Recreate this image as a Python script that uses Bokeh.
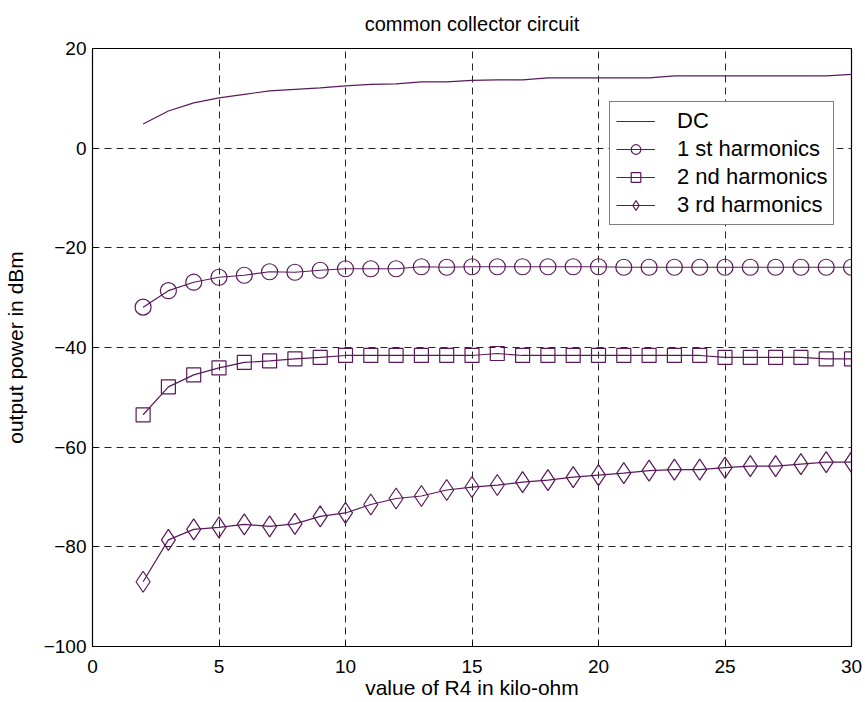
from bokeh.plotting import figure
from bokeh.models import Range1d, FixedTicker, Legend, LegendItem
from bokeh.embed import file_html
from bokeh.resources import INLINE

r4 = list(range(2, 31))
dc = [4.85, 7.45, 9.1, 10.1, 10.8, 11.5, 11.8, 12.1, 12.5, 12.8, 12.9, 13.3, 13.3,
      13.6, 13.7, 13.7, 14.1, 14.1, 14.1, 14.1, 14.1, 14.5, 14.5, 14.5, 14.5, 14.5,
      14.5, 14.5, 14.8]
h1 = [-31.9, -28.6, -26.9, -25.9, -25.5, -24.8, -24.9, -24.5, -24.2, -24.2, -24.2,
      -23.8, -23.9, -23.8, -23.8, -23.8, -23.8, -23.8, -23.8, -23.9, -23.9, -23.9,
      -23.9, -23.9, -23.9, -23.9, -23.9, -23.9, -23.9]
h2 = [-53.5, -47.9, -45.5, -44.1, -43.0, -42.7, -42.3, -42.0, -41.6, -41.6, -41.6,
      -41.6, -41.6, -41.6, -41.2, -41.6, -41.6, -41.6, -41.6, -41.6, -41.6, -41.6,
      -41.6, -42.0, -42.0, -42.0, -42.0, -42.3, -42.3]
h3 = [-87.0, -78.6, -76.5, -76.1, -75.5, -75.9, -75.4, -73.9, -73.2, -71.5, -70.3,
      -69.8, -68.6, -68.0, -67.6, -67.0, -66.6, -66.0, -65.6, -65.2, -64.7, -64.5,
      -64.5, -64.1, -63.8, -63.8, -63.4, -63.0, -63.0]

x_ticks = [0, 5, 10, 15, 20, 25, 30]
y_ticks = [-100, -80, -60, -40, -20, 0, 20]

title_text = "common collector circuit"
x_label = "value of R4 in kilo-ohm"
y_label = "output power in dBm"
names = ["DC", "1 st harmonics", "2 nd harmonics", "3 rd harmonics"]

COL = "#5a1a5a"
FONT = "Liberation Sans"

p = figure(width=865, height=702, output_backend="svg", toolbar_location=None,
           x_range=Range1d(0, 30), y_range=Range1d(-100, 20),
           min_border_left=91, min_border_right=14, min_border_top=47,
           min_border_bottom=56)

p.title.text = title_text
p.title.text_font = FONT
p.title.text_font_style = "normal"
p.title.text_font_size = "20px"
p.title.align = "center"
p.title.vertical_align = "top"
p.title.text_color = "black"
p.title.standoff = 24

p.outline_line_color = "black"
p.outline_line_width = 1.2
p.outline_line_alpha = 1

for ax, ticks, lab in ((p.xaxis, x_ticks, x_label), (p.yaxis, y_ticks, y_label)):
    ax.ticker = FixedTicker(ticks=ticks)
    ax.axis_label = lab
    ax.axis_label_text_font = FONT
    ax.axis_label_text_font_style = "normal"
    ax.axis_label_text_font_size = "21px"
    ax.axis_label_text_color = "black"
    ax.major_label_text_font = FONT
    ax.major_label_text_font_size = "19px"
    ax.major_label_text_color = "black"
    ax.axis_line_color = "black"
    ax.major_tick_in = 5
    ax.major_tick_out = 0
    ax.minor_tick_line_color = None
    ax.major_tick_line_color = "black"

p.xaxis.major_label_standoff = 13
p.xaxis.axis_label_standoff = 0
p.yaxis.major_label_standoff = 6
p.yaxis.axis_label_standoff = 14

for g in (p.xgrid, p.ygrid):
    g.grid_line_color = "black"
    g.grid_line_dash = "7 5"
    g.grid_line_alpha = 0.85
    g.grid_line_width = 1

l0 = p.line(r4, dc, line_color=COL, line_width=1.2)
l1 = p.line(r4, h1, line_color=COL, line_width=1.2)
s1 = p.scatter(r4, h1, marker="circle", size=16, fill_color=None, line_color=COL, line_width=1.2)
l2 = p.line(r4, h2, line_color=COL, line_width=1.2)
s2 = p.scatter(r4, h2, marker="square", size=14, fill_color=None, line_color=COL, line_width=1.2)
l3 = p.line(r4, h3, line_color=COL, line_width=1.2)
s3 = p.scatter(r4, h3, marker="diamond", size=21, fill_color=None, line_color=COL, line_width=1.2)

legend = Legend(items=[
    LegendItem(label=names[0], renderers=[l0]),
    LegendItem(label=names[1], renderers=[l1, s1]),
    LegendItem(label=names[2], renderers=[l2, s2]),
    LegendItem(label=names[3], renderers=[l3, s3]),
], location=(517, 421))
legend.label_text_font = FONT
legend.label_text_font_size = "22px"
legend.label_text_color = "black"
legend.glyph_width = 39
legend.glyph_height = 24
legend.label_height = 24
legend.spacing = 2
legend.padding = 6
legend.margin = 0
legend.label_standoff = 22
legend.border_line_color = "black"
legend.border_line_width = 1.2
legend.background_fill_alpha = 1
p.add_layout(legend, "center")

open("out.html", "w").write(file_html(p, INLINE))
